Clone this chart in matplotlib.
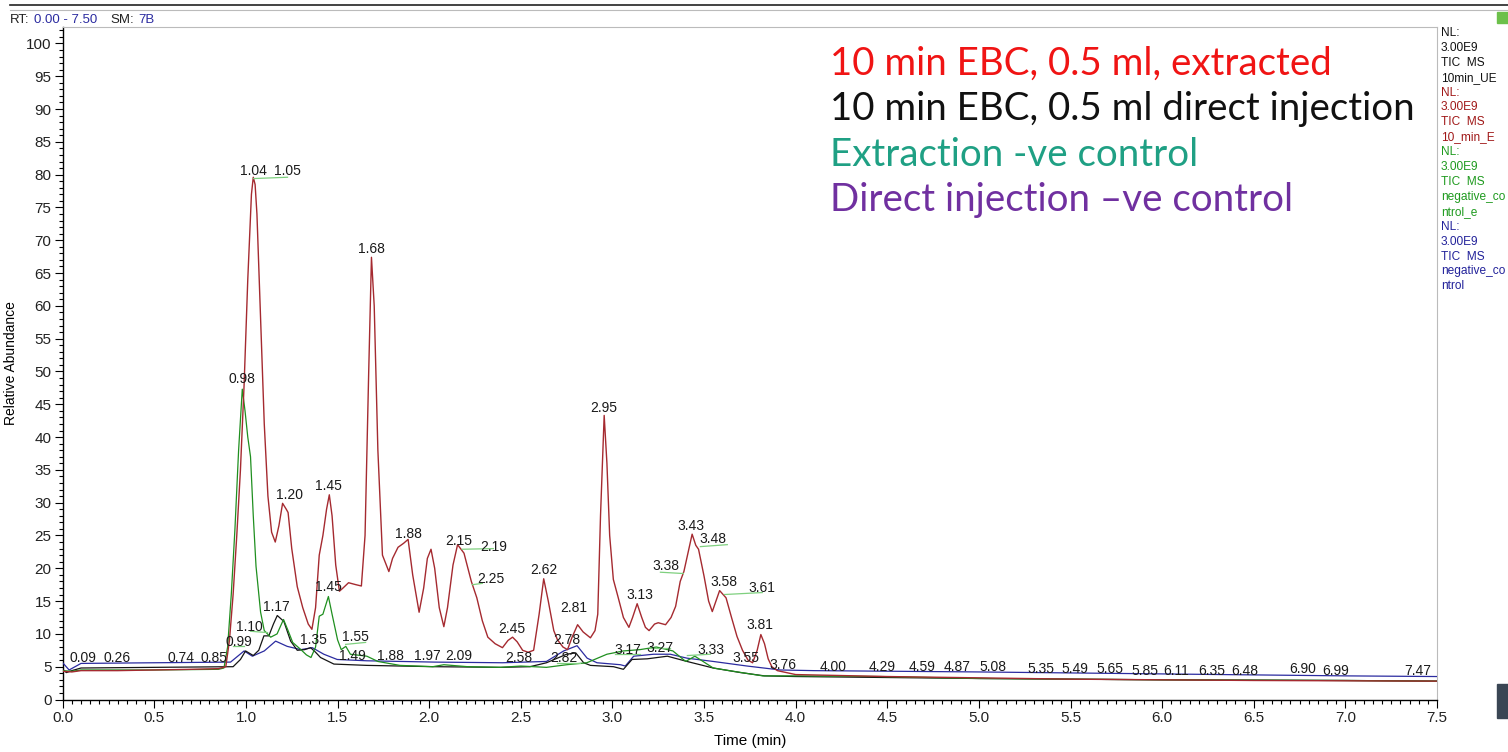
import numpy as np
import matplotlib
matplotlib.use("Agg")
import matplotlib.pyplot as plt
from matplotlib.ticker import MultipleLocator, FormatStrFormatter

W, H = 1508, 752

# ---- trace data (time in min, relative abundance) ----
red_t = [0.00, 0.05, 0.10, 0.30, 0.50, 0.70, 0.85, 0.89, 0.91, 0.93, 0.95, 0.97, 0.99, 1.01, 1.03,
         1.04, 1.05, 1.06, 1.08, 1.10, 1.12, 1.14, 1.16, 1.18, 1.20, 1.22, 1.23, 1.25, 1.28, 1.31,
         1.34, 1.36, 1.38, 1.40, 1.42, 1.44, 1.455, 1.47, 1.49, 1.51, 1.53, 1.56, 1.60, 1.63, 1.65,
         1.67, 1.685, 1.70, 1.72, 1.745, 1.78, 1.80, 1.83, 1.86, 1.885, 1.91, 1.945, 1.97, 1.99,
         2.01, 2.03, 2.055, 2.08, 2.10, 2.13, 2.155, 2.19, 2.23, 2.26, 2.29, 2.32, 2.36, 2.40, 2.43,
         2.455, 2.48, 2.51, 2.54, 2.57, 2.60, 2.625, 2.65, 2.68, 2.70, 2.73, 2.755, 2.78, 2.81, 2.84,
         2.88, 2.905, 2.92, 2.935, 2.955, 2.97, 2.985, 3.005, 3.03, 3.06, 3.09, 3.11, 3.135, 3.16,
         3.18, 3.20, 3.23, 3.25, 3.29, 3.32, 3.345, 3.37, 3.39, 3.41, 3.435, 3.455, 3.47, 3.50,
         3.525, 3.545, 3.565, 3.585, 3.62, 3.65, 3.68, 3.71, 3.74, 3.765, 3.79, 3.81, 3.83, 3.85,
         3.87, 3.90, 3.95, 4.00, 4.50, 5.00, 5.50, 6.00, 6.50, 7.00, 7.50]
red_v = [4.3, 4.2, 4.4, 4.4, 4.5, 4.6, 4.7, 5.0, 9.0, 16.0, 25.0, 35.0, 48.0, 64.0, 77.0,
         79.6, 78.5, 74.0, 58.0, 42.0, 31.0, 25.5, 24.0, 26.5, 29.9, 29.0, 28.5, 23.0, 17.2, 14.0,
         11.5, 10.7, 14.0, 22.0, 25.0, 29.0, 31.2, 28.0, 20.5, 16.5, 17.0, 17.8, 17.5, 17.3, 25.0,
         50.0, 67.4, 60.0, 38.0, 22.0, 19.5, 21.5, 23.2, 23.8, 24.4, 19.0, 13.3, 17.0, 21.5,
         22.9, 20.0, 14.0, 11.1, 14.0, 20.5, 23.6, 22.3, 18.0, 15.5, 12.0, 9.5, 8.5, 7.9, 9.0,
         9.5, 8.8, 7.5, 7.2, 7.5, 13.0, 18.4, 15.0, 10.5, 9.1, 8.0, 7.6, 9.5, 11.4, 10.3,
         9.4, 10.5, 13.0, 28.0, 43.3, 36.0, 25.0, 18.3, 15.7, 12.5, 11.0, 12.5, 14.6, 12.5,
         11.0, 10.5, 11.5, 11.7, 11.4, 12.5, 14.2, 18.0, 19.5, 22.0, 25.2, 23.5, 22.9, 18.8,
         15.0, 13.4, 15.0, 16.6, 15.5, 12.5, 9.6, 7.5, 6.0, 5.6, 7.5, 9.9, 8.5, 6.2,
         5.0, 4.4, 4.1, 3.8, 3.5, 3.3, 3.1, 3.0, 2.9, 2.85, 2.8]

green_t = [0.00, 0.05, 0.10, 0.50, 0.85, 0.88, 0.90, 0.92, 0.94, 0.96, 0.98, 0.995, 1.01, 1.025,
           1.04, 1.055, 1.08, 1.10, 1.135, 1.17, 1.205, 1.23, 1.255, 1.30, 1.33, 1.355, 1.38,
           1.40, 1.42, 1.45, 1.47, 1.50, 1.52, 1.545, 1.57, 1.66, 1.72, 1.84, 2.02, 2.08, 2.21,
           2.39, 2.50, 2.64, 2.75, 2.86, 2.97, 3.06, 3.15, 3.24, 3.33, 3.40, 3.45, 3.55, 3.66,
           3.82, 4.01, 4.46, 5.00, 6.00, 7.00, 7.50]
green_v = [4.4, 4.3, 4.5, 4.5, 4.6, 4.8, 8.0, 16.0, 26.0, 38.0, 47.3, 44.0, 40.0, 37.0,
           28.0, 20.3, 13.3, 10.5, 9.5, 10.0, 12.2, 10.5, 8.7, 7.6, 6.8, 6.4, 8.0,
           12.7, 13.0, 15.7, 13.0, 9.1, 7.6, 8.1, 6.9, 6.6, 5.8, 5.2, 5.0, 5.3, 5.0,
           4.9, 5.1, 4.9, 5.3, 5.6, 6.9, 7.4, 7.6, 8.0, 7.4, 5.8, 6.6, 4.8, 4.3,
           3.6, 3.6, 3.5, 3.2, 3.0, 2.9, 2.8]

black_t = [0.00, 0.02, 0.05, 0.10, 0.50, 0.93, 0.97, 0.998, 1.04, 1.07, 1.098, 1.125, 1.15,
           1.171, 1.207, 1.244, 1.28, 1.32, 1.353, 1.38, 1.407, 1.48, 1.66, 2.03, 2.39, 2.55,
           2.64, 2.75, 2.80, 2.843, 2.88, 3.006, 3.06, 3.107, 3.19, 3.30, 3.407, 3.55, 3.70,
           3.83, 4.00, 5.00, 6.00, 7.00, 7.50]
black_v = [4.6, 4.1, 4.4, 4.8, 4.9, 5.0, 6.1, 7.4, 6.7, 7.5, 9.7, 9.7, 11.5,
           12.8, 11.9, 8.9, 7.5, 7.6, 7.9, 7.2, 6.4, 5.4, 5.2, 5.0, 4.9, 5.0,
           5.6, 6.9, 7.1, 5.6, 5.2, 5.0, 4.6, 6.1, 6.2, 6.6, 5.8, 4.8, 4.1,
           3.6, 3.5, 3.2, 3.0, 2.9, 2.8]

blue_t = [0.00, 0.035, 0.10, 0.50, 0.916, 0.99, 1.035, 1.10, 1.162, 1.225, 1.30, 1.362, 1.425,
          1.498, 1.66, 2.03, 2.40, 2.64, 2.734, 2.807, 2.862, 2.916, 3.044, 3.07, 3.116, 3.225,
          3.316, 3.407, 3.55, 3.735, 3.916, 4.10, 5.00, 6.00, 7.00, 7.50]
blue_v = [5.6, 4.5, 5.5, 5.6, 5.7, 7.4, 6.6, 7.4, 8.9, 8.1, 7.6, 7.9, 6.9,
          6.1, 5.9, 5.7, 5.6, 5.8, 7.4, 8.2, 6.3, 5.6, 5.3, 5.1, 6.6, 6.9,
          6.9, 6.3, 5.8, 5.1, 4.5, 4.4, 4.2, 3.9, 3.6, 3.5]

# ---- peak labels: text, time position, height position ----
peak_text = ["1.04", "1.05", "1.68", "0.98", "1.20", "1.45", "1.88", "2.15", "2.19", "2.25",
             "2.95", "3.43", "3.48", "3.38", "3.58", "3.61", "3.13", "2.62", "2.81", "2.45",
             "3.81", "1.17", "1.45", "1.10", "0.99", "1.35", "1.55", "1.49", "1.88", "1.97",
             "2.09", "2.58", "2.78", "2.82", "3.17", "3.27", "3.33", "3.55", "3.76", "4.00",
             "4.29", "4.59", "4.87", "5.08", "5.35", "5.49", "5.65", "5.85", "6.11", "6.35",
             "6.48", "6.90", "6.99", "7.47", "0.09", "0.26", "0.74", "0.85"]
peak_x = [1.042, 1.227, 1.686, 0.976, 1.238, 1.451, 1.887, 2.160, 2.350, 2.335,
          2.951, 3.431, 3.551, 3.290, 3.611, 3.813, 3.147, 2.624, 2.787, 2.449,
          3.802, 1.167, 1.451, 1.020, 0.960, 1.369, 1.598, 1.582, 1.789, 1.991,
          2.160, 2.487, 2.749, 2.733, 3.082, 3.257, 3.540, 3.730, 3.933, 4.205,
          4.472, 4.690, 4.882, 5.078, 5.340, 5.525, 5.716, 5.907, 6.076, 6.273,
          6.453, 6.769, 6.949, 7.396, 0.109, 0.295, 0.644, 0.824]
peak_y = [80.6, 80.5, 68.6, 48.8, 31.2, 32.6, 25.3, 24.1, 23.2, 18.3,
          44.5, 26.5, 24.4, 20.4, 17.9, 17.0, 16.0, 19.8, 13.9, 10.8,
          11.3, 14.1, 17.2, 11.1, 8.7, 9.1, 9.6, 6.7, 6.7, 6.7,
          6.7, 6.4, 9.1, 6.4, 7.6, 7.8, 7.6, 6.4, 5.3, 5.0,
          4.9, 4.9, 4.9, 4.9, 4.7, 4.6, 4.6, 4.4, 4.4, 4.4,
          4.4, 4.6, 4.4, 4.4, 6.4, 6.4, 6.4, 6.4]

# leader lines from peak to shifted label (t0, v0, t1, v1)
leaders = [(1.042, 79.4, 1.227, 79.6), (2.18, 22.9, 2.35, 23.0), (2.236, 17.5, 2.29, 17.7),
           (3.48, 23.3, 3.627, 23.6), (3.262, 19.4, 3.387, 19.2), (3.611, 16.0, 3.818, 16.3),
           (1.025, 10.4, 1.118, 10.2), (0.927, 8.1, 0.987, 8.1), (1.544, 8.4, 1.653, 8.7),
           (3.016, 6.9, 3.153, 6.9), (3.207, 7.9, 3.316, 7.9), (3.409, 6.7, 3.535, 6.9),
           (2.70, 5.6, 2.825, 5.6)]

legend_lines = ["10 min EBC, 0.5 ml, extracted", "10 min EBC, 0.5 ml direct injection",
                "Extraction -ve control", "Direct injection \u2013ve control"]
legend_colors = ["#F01414", "#111111", "#1FA084", "#7030A0"]

side_lines = [["NL:", "3.00E9", "TIC  MS", "10min_UE"],
              ["NL:", "3.00E9", "TIC  MS", "10_min_E"],
              ["NL:", "3.00E9", "TIC  MS", "negative_co", "ntrol_e"],
              ["NL:", "3.00E9", "TIC  MS", "negative_co", "ntrol"]]
side_colors = ["#111111", "#A01818", "#1E9A1E", "#22229A"]


def fx(px):
    return px / W


def fy(py):
    return 1 - py / H


plt.rcParams['font.family'] = ['Liberation Sans', 'DejaVu Sans']

fig = plt.figure(figsize=(W / 100, H / 100), dpi=100)
ax = fig.add_axes([fx(62.7), fy(699.5), fx(1437) - fx(62.7), fy(27) - fy(699.5)])

ax.plot(blue_t, blue_v, color="#2B2BA0", lw=0.9, zorder=3)
ax.plot(black_t, black_v, color="#151515", lw=0.9, zorder=4)
ax.plot(green_t, green_v, color="#1F8F1F", lw=0.9, zorder=5)
ax.plot(red_t, red_v, color="#A52A30", lw=1.0, zorder=6)

for t0, v0, t1, v1 in leaders:
    ax.plot([t0, t1], [v0, v1], color="#7FD07F", lw=0.9, zorder=7)

for s, x, y in zip(peak_text, peak_x, peak_y):
    ax.text(x, y, s, ha="center", va="center", fontsize=10, color="#1A1A1A", zorder=8)

ax.set_xlim(0, 7.5)
ax.set_ylim(0, 102.5)
ax.xaxis.set_major_locator(MultipleLocator(0.5))
ax.xaxis.set_minor_locator(MultipleLocator(0.05))
ax.xaxis.set_major_formatter(FormatStrFormatter('%.1f'))
ax.yaxis.set_major_locator(MultipleLocator(5))
ax.yaxis.set_minor_locator(MultipleLocator(1))
ax.tick_params(axis='both', which='major', direction='out', length=6, width=0.8,
               labelsize=11, labelcolor="#222222", pad=2)
ax.tick_params(axis='both', which='minor', direction='out', length=3, width=0.8)
for side in ("top", "right"):
    ax.spines[side].set_color("#BBBBBB")
for side in ("left", "bottom"):
    ax.spines[side].set_linewidth(1.0)
ax.set_xlabel("Time (min)", fontsize=11, labelpad=7)
ax.set_ylabel("Relative Abundance", fontsize=10, labelpad=6)

# sample legend in the plot area
for i, (s, c) in enumerate(zip(legend_lines, legend_colors)):
    fig.text(fx(830), fy(64 + 45.3 * i), s, color=c, fontsize=27.7, family="Lato",
             ha="left", va="center")

# right-side trace info
row = 0
for lines, c in zip(side_lines, side_colors):
    for s in lines:
        fig.text(fx(1441), fy(33 + 14.9 * row), s, color=c, fontsize=8.6,
                 ha="left", va="center")
        row += 1

# header
fig.text(fx(10), fy(20), "RT:", color="#222222", fontsize=9.5, va="center")
fig.text(fx(34), fy(20), "0.00 - 7.50", color="#2B2BA0", fontsize=9.5, va="center")
fig.text(fx(110), fy(20), "SM:", color="#222222", fontsize=9.5, va="center")
fig.text(fx(138), fy(20), "7B", color="#2B2BA0", fontsize=9.5, va="center")
fig.add_artist(plt.Line2D([fx(10), 1], [fy(5), fy(5)], color="#222222", lw=1.2))
fig.add_artist(plt.Line2D([fx(10), 1], [fy(9.5), fy(9.5)], color="#BBBBBB", lw=0.8))

# small toolbar icons at the right edge
fig.add_artist(plt.Rectangle((fx(1497), fy(23)), fx(11), 11 / H, color="#6CC04A"))
fig.add_artist(plt.Rectangle((fx(1497), fy(718)), fx(11), 34 / H, color="#3A4654"))

fig.savefig("out.png", dpi=100)
